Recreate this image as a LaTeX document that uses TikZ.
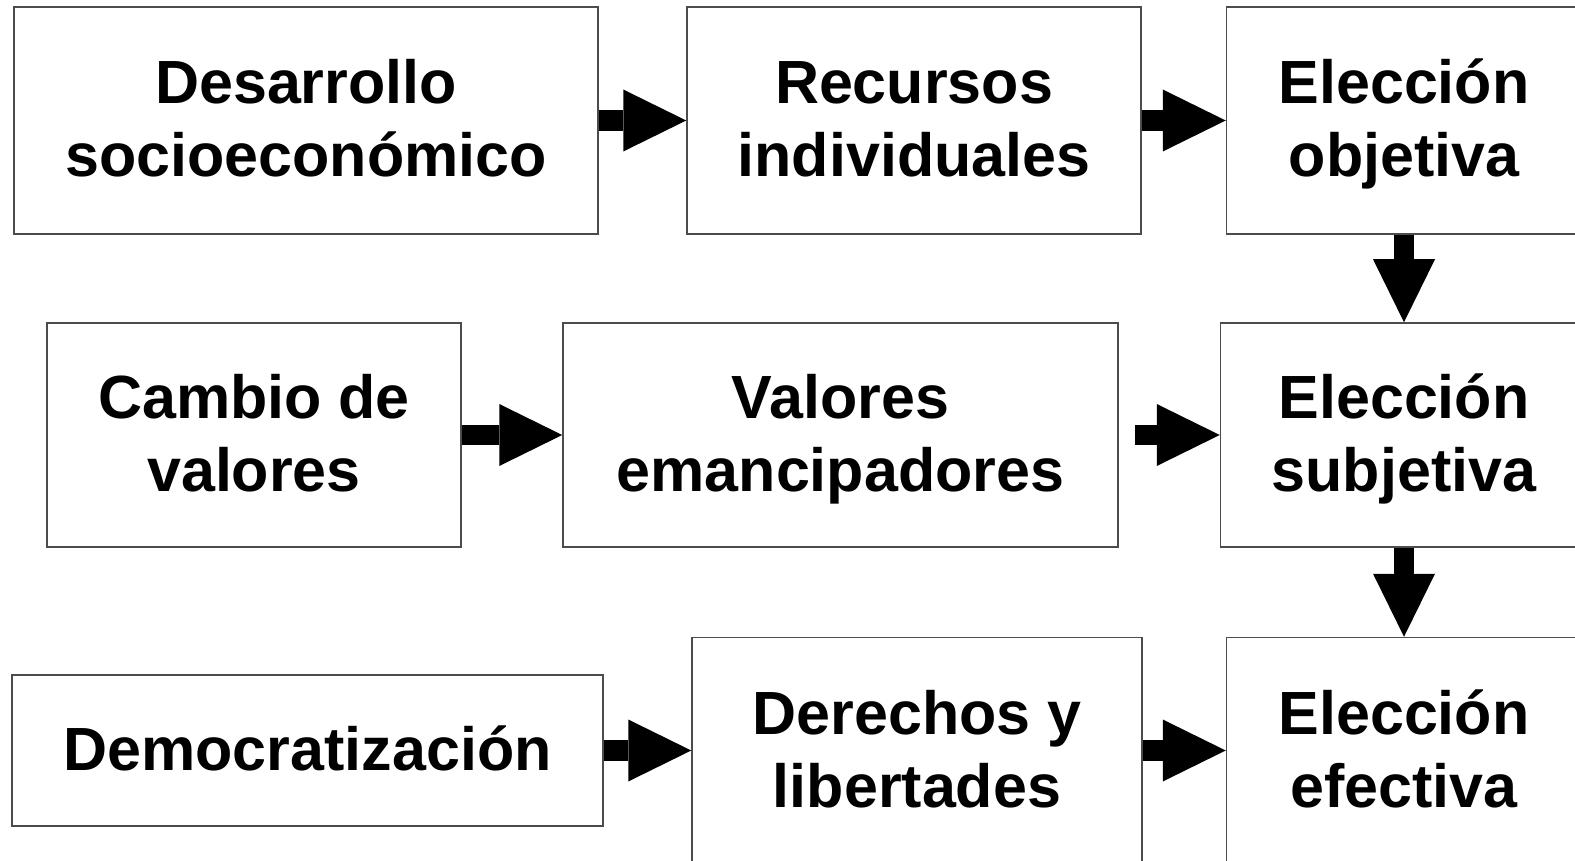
\documentclass[tikz,border=0pt]{standalone}
\usepackage{fontspec}
\setmainfont{Liberation Sans}
\usetikzlibrary{arrows.meta}
\newcommand{\linea}{\rule[-15pt]{0pt}{70pt}}

\begin{document}
\begin{tikzpicture}[x=1pt,y=-1pt]
\tikzstyle{box}=[rectangle, draw=black!70, line width=1.5pt, align=center, inner sep=0pt, font=\fontsize{61}{73}\selectfont\bfseries]
\tikzstyle{flecha}=[line width=20.5pt, -{Triangle[length=63pt,width=62pt,line width=0pt]}]

\useasboundingbox (0,0) rectangle (1575,861);
\clip (0,0) rectangle (1575,861);

% top row
\node[box, minimum width=584pt, minimum height=227pt] (desarrollo) at (306,120.5) {\linea Desarrollo\\\linea socioeconómico};
\node[box, minimum width=454pt, minimum height=227pt] (recursos) at (914,120.5) {\linea Recursos\\\linea individuales};
\node[box, minimum width=355pt, minimum height=227pt] (objetiva) at (1404,120.5) {\linea Elección\\\linea objetiva};

% middle row
\node[box, minimum width=414pt, minimum height=224pt] (cambio) at (254,435) {\linea Cambio de\\\linea valores};
\node[box, minimum width=555pt, minimum height=224pt] (valores) at (840.5,435) {\linea Valores\\\linea emancipadores};
\node[box, minimum width=367pt, minimum height=224pt] (subjetiva) at (1404,435) {\linea Elección\\\linea subjetiva};

% bottom row
\node[box, minimum width=591pt, minimum height=151pt] (democ) at (307.5,750.5) {\linea Democratización};
\node[box, minimum width=450pt, minimum height=226pt] (derechos) at (917,750.5) {\linea Derechos y\\\linea libertades};
\node[box, minimum width=355pt, minimum height=226pt] (efectiva) at (1404,750.5) {\linea Elección\\\linea efectiva};

\draw[flecha] (desarrollo)--(recursos);
\draw[flecha] (recursos)--(objetiva);
\draw[flecha] (objetiva)--(subjetiva);
\draw[flecha] (cambio)--(valores);
\draw[flecha, shorten <=16pt] (valores)--(subjetiva);
\draw[flecha] (subjetiva)--(efectiva);
\draw[flecha] (democ)--(derechos);
\draw[flecha] (derechos)--(efectiva);

\end{tikzpicture}
\end{document}
